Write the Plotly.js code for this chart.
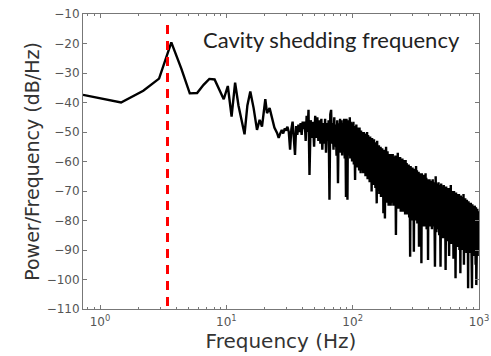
<!DOCTYPE html>
<html>
<head>
<meta charset="utf-8">
<script src="https://cdn.plot.ly/plotly-3.0.1.min.js"></script>
<style>html,body{margin:0;padding:0;background:#fff;}#chart{width:491px;height:356px;}</style>
</head>
<body>
<div id="chart"></div>
<script>
// ---- Data ----
// Low-frequency part (Hz, dB/Hz)
const lowFreqHz = [
  0.733, 1.467, 2.2, 2.933, 3.667, 4.4, 5.133, 5.867, 6.6, 7.333, 8.067, 8.8, 9.533, 10.27, 11.0, 11.73, 12.47, 13.2, 13.93, 14.67,
  15.47, 16.44, 17.48, 18.34, 19.15, 20.34, 20.98, 22.0, 23.1, 24.0
];
const lowPowerDb = [
  -37.4, -40.0, -36.0, -31.9, -19.6, -28.5, -36.9, -36.8, -34.0, -32.0, -32.2, -36.0, -38.9, -34.4, -44.8, -33.3, -41.0, -46.0, -50.8, -41.0,
  -36.3, -41.9, -49.3, -45.9, -48.2, -38.9, -43.6, -41.9, -46.0, -48.5
];
// Mid-frequency part
const midFreqHz = [
  25.2, 25.95, 26.7, 27.45, 28.2, 28.95, 29.7, 30.45, 31.2, 31.95, 32.7, 33.45, 34.2, 34.95, 35.7, 36.45, 37.2, 37.95, 38.7, 39.45,
  40.2, 40.95, 41.7, 42.45, 43.2, 43.95, 44.7,
  45.5, 46.5, 47.5, 48.5, 49.5, 50.5, 51.5, 52.5, 53.5, 54.5, 55.5, 56.5, 57.5, 58.5, 59.5, 60.5, 61.5, 62.5, 63.5, 64.5,
  65.5, 66.5, 67.5, 68.5, 69.5, 70.5, 71.5, 72.5, 73.5, 74.5, 75.5, 76.5, 77.5, 78.5, 79.5, 80.5, 81.5, 82.5, 83.5, 84.5,
  85.5, 86.5, 87.5, 88.5
];
const midPowerDb = [
  -50.3, -52.0, -50.5, -49.3, -50.5, -48.8, -49.5, -48.2, -50.0, -56.0, -49.0, -46.5, -52.0, -57.8, -48.0, -51.0, -47.5, -50.0, -47.0, -51.0,
  -46.5, -49.0, -46.5, -53.0, -44.5, -50.0, -42.5,
  -64.6, -46.0, -52.0, -46.5, -55.0, -44.5, -52.0, -45.0, -53.0, -46.0, -54.0, -45.5, -56.0, -47.0, -54.0, -45.5, -57.0, -47.0, -53.0, -46.0,
  -73.0, -44.0, -42.5, -54.0, -47.0, -56.0, -45.0, -55.0, -47.5, -58.0, -46.0, -67.4, -47.0, -55.0, -45.5, -57.0, -46.0, -58.0, -47.0, -56.0,
  -45.5, -59.0, -46.0, -72.0
];
// High-frequency part (dense band)
const highFreqHz = [
  89.3, 90.1, 90.9, 91.7, 92.5, 93.3, 94.1, 94.9, 95.7, 96.5, 97.3, 98.1, 98.9, 99.7, 100.5, 101.3, 102.1, 102.9, 103.7, 104.5,
  105.3, 106.1, 106.9, 107.7, 108.5, 109.3, 110.1, 110.9, 111.7, 112.5, 113.3, 114.1, 114.9, 115.7, 116.5, 117.3, 118.1, 118.9, 119.7,
  121.25, 122.5, 123.75, 125, 126.25, 127.5, 128.75, 130, 131.25, 132.5, 133.75, 135, 136.25, 137.5, 138.75, 140,
  141.25, 142.5, 143.75, 145, 146.25, 147.5, 148.75, 150, 151.25, 152.5, 153.75, 155, 156.25, 157.5, 158.75, 160,
  161.25, 162.5, 163.75, 165, 166.25, 167.5, 168.75, 170, 171.25, 172.5, 173.75, 175, 176.25, 177.5, 178.75, 180,
  181.25, 182.5, 183.75, 185, 186.25, 187.5, 188.75, 190, 191.25, 192.5, 193.75, 195, 196.25, 197.5, 198.75, 200,
  202.5, 205, 207.5, 210, 212.5, 215, 217.5, 220, 222.5, 225, 227.5, 230, 232.5, 235, 237.5, 240, 242.5, 245, 247.5, 250,
  252.5, 255, 257.5, 260, 262.5, 265, 267.5, 270, 272.5, 275, 277.5, 280, 282.5, 285, 287.5, 290, 292.5, 295, 297.5, 300,
  302.5, 305, 307.5, 310, 312.5, 315, 317.5, 320, 322.5, 325, 327.5, 330, 332.5, 335, 337.5, 340, 342.5, 345, 347.5, 350,
  352.5, 355, 357.5, 360, 362.5, 365, 367.5, 370, 372.5, 375, 377.5, 380, 382.5, 385, 387.5, 390, 392.5, 395, 397.5, 400,
  406, 412, 418, 424, 430, 436, 442, 448, 454, 460, 466, 472, 478, 484, 490, 496, 502, 508, 514, 520,
  526, 532, 538, 544, 550, 556, 562, 568, 574, 580, 586, 592, 598, 604, 610, 616, 622, 628, 634, 640,
  646, 652, 658, 664, 670, 676, 682, 688, 694, 700, 706, 712, 718, 724, 730, 736, 742, 748, 754, 760,
  766, 772, 778, 784, 790, 796, 802, 808, 814, 820, 826, 832, 838, 844, 850, 856, 862, 868, 874, 880,
  886, 892, 898, 904, 910, 916, 922, 928, 934, 940, 946, 952, 958, 964, 970, 976, 982, 988, 994, 1000
];
const highPowerDb = [
  -45.5, -57.0, -73.0, -46.0, -58.0, -47.0, -56.0, -45.0, -59.0, -46.5, -57.0, -48.0, -60.0, -47.0, -58.0, -46.5, -61.0, -48.0, -59.0, -66.3,
  -49.0, -58.0, -47.5, -61.0, -48.5, -62.0, -49.0, -59.0, -50.0, -63.0, -48.5, -60.0, -50.0, -64.0, -49.5, -61.0, -51.0, -63.0, -50.0,
  -64.0, -50.0, -62.0, -51.0, -65.0, -50.5, -63.0, -50.0, -66.0, -51.0, -64.0, -52.0, -67.0, -51.5, -65.0, -52.5,
  -70.2, -52.0, -66.0, -53.0, -68.0, -52.5, -67.0, -53.5, -69.0, -54.0, -68.0, -74.2, -53.0, -69.0, -55.0, -70.0,
  -54.5, -71.0, -55.5, -70.0, -55.0, -72.0, -56.0, -71.0, -55.5, -72.0, -56.5, -77.5, -56.0, -72.0, -57.0, -79.3,
  -56.5, -73.0, -55.0, -72.0, -57.5, -74.0, -56.5, -73.0, -58.0, -75.0, -57.5, -73.0, -58.0, -74.0, -57.5, -75.0,
  -58.0, -74.0, -57.5, -75.0, -58.5, -74.0, -58.0, -84.9, -59.0, -75.0, -57.0, -76.0, -59.5, -75.0, -58.5, -77.0, -60.0, -76.0, -59.0, -77.0,
  -60.0, -76.0, -59.5, -78.0, -59.5, -77.0, -60.5, -78.0, -61.5, -77.0, -61.0, -79.0, -62.0, -92.3, -61.5, -78.0, -62.5, -80.0, -62.0, -79.0,
  -62.5, -90.6, -63.0, -79.0, -62.5, -80.0, -61.5, -79.0, -63.0, -81.0, -64.0, -80.0, -63.5, -88.9, -64.5, -80.0, -64.0, -81.0, -64.5, -94.5,
  -64.0, -81.0, -65.0, -80.0, -64.5, -82.0, -65.5, -81.0, -65.0, -82.0, -64.0, -81.0, -65.5, -83.0, -66.0, -82.0, -66.5, -93.4, -66.0, -82.0,
  -66.0, -82.0, -66.5, -83.0, -66.0, -82.0, -67.0, -95.7, -65.0, -84.0, -67.5, -83.0, -67.0, -85.0, -68.0, -95.7, -67.5, -84.0, -68.5, -86.0,
  -68.0, -85.0, -69.0, -96.8, -68.5, -86.0, -69.5, -87.0, -69.0, -92.0, -70.0, -86.0, -68.0, -88.0, -70.0, -87.0, -70.5, -93.0, -70.0, -88.0,
  -71.0, -99.6, -70.5, -88.0, -71.0, -89.0, -71.5, -88.0, -71.0, -90.0, -72.0, -97.9, -71.5, -89.0, -72.5, -90.0, -72.0, -89.0, -71.0, -95.0,
  -73.0, -90.0, -72.5, -89.0, -73.5, -91.0, -73.0, -90.0, -74.0, -103.0, -73.5, -90.0, -74.0, -91.0, -74.5, -90.0, -74.0, -96.0, -75.0, -103.0,
  -74.5, -91.0, -75.0, -90.0, -75.5, -92.0, -75.0, -91.0, -76.0, -95.0, -75.5, -101.9, -76.5, -91.0, -76.0, -92.0, -77.0, -91.0, -77.5, -90.0
];
const frequencyHz = lowFreqHz.concat(midFreqHz, highFreqHz);
const powerDb = lowPowerDb.concat(midPowerDb, highPowerDb);

// Cavity shedding frequency marker
const sheddingFreqHz = 3.42;
const sheddingLineDb = [-109, -12.5];
const annotationText = 'Cavity shedding frequency';

// Axis ticks
const yTickVals = [-110, -100, -90, -80, -70, -60, -50, -40, -30, -20, -10];
const xTickVals = [1, 10, 100, 1000];
const xTickText = ['10<sup>0</sup>', '10<sup>1</sup>', '10<sup>2</sup>', '10<sup>3</sup>'];
const xMinor = [];
[0.1, 1, 10, 100].forEach(function (d) { for (let k = 2; k <= 9; k++) xMinor.push(d * k); });

const traces = [
  {
    x: frequencyHz, y: powerDb, type: 'scatter', mode: 'lines',
    line: {color: '#000', width: 2.4}, hoverinfo: 'skip'
  },
  {
    x: [sheddingFreqHz, sheddingFreqHz], y: sheddingLineDb, type: 'scatter', mode: 'lines',
    line: {color: '#ff0000', width: 3, dash: '9px,7px'}, hoverinfo: 'skip'
  }
];

const axisCommon = {
  showline: true, mirror: 'ticks', linecolor: '#777', linewidth: 1,
  ticks: 'inside', ticklen: 4, tickcolor: '#777', showgrid: false, zeroline: false,
  tickfont: {family: 'DejaVu Sans, sans-serif', size: 12, color: '#555'}
};

const layout = {
  width: 491, height: 356,
  margin: {l: 83, r: 12, t: 14, b: 47, pad: 0},
  paper_bgcolor: '#fff', plot_bgcolor: '#fff',
  showlegend: false,
  xaxis: Object.assign({}, axisCommon, {
    type: 'log', range: [Math.log10(0.733), 3],
    tickmode: 'array', tickvals: xTickVals, ticktext: xTickText,
    ticklabelstandoff: 2,
    minor: {tickmode: 'array', tickvals: xMinor, ticks: 'inside', ticklen: 2, tickcolor: '#777'},
    title: {text: 'Frequency (Hz)', font: {family: 'DejaVu Sans, sans-serif', size: 20, color: '#333'}, standoff: 4}
  }),
  yaxis: Object.assign({}, axisCommon, {
    range: [-110, -10], tickmode: 'array', tickvals: yTickVals,
    title: {text: 'Power/Frequency (dB/Hz)', font: {family: 'DejaVu Sans, sans-serif', size: 19, color: '#333'}, standoff: 1}
  }),
  annotations: [{
    xref: 'paper', yref: 'paper', x: 0.6275, y: 0.912, xanchor: 'center', yanchor: 'middle',
    text: annotationText, showarrow: false,
    font: {family: 'Lato, sans-serif', size: 22, color: '#222'}
  }]
};

Plotly.newPlot('chart', traces, layout, {staticPlot: true, displayModeBar: false});
</script>
</body>
</html>
